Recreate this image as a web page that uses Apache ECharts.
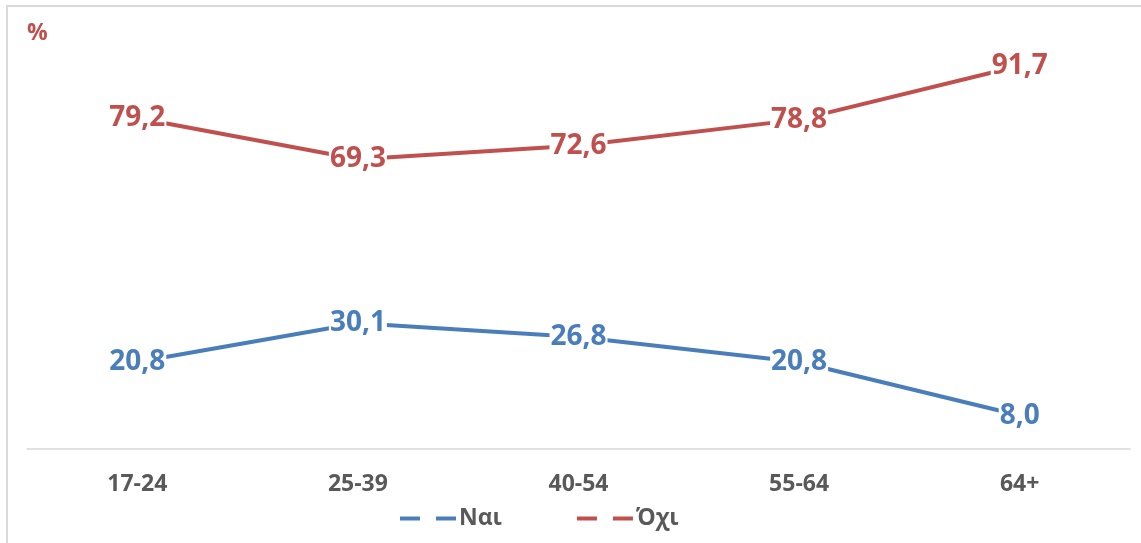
<!DOCTYPE html>
<html>
<head>
<meta charset="utf-8">
<script src="https://cdn.jsdelivr.net/npm/echarts@6/dist/echarts.min.js"></script>
<style>
html,body{margin:0;padding:0;background:#fff;}
#frame{position:absolute;left:6px;top:5px;width:1141px;height:543px;border-left:2px solid #d9d9d9;border-top:2px solid #d9d9d9;}
#chart{position:absolute;left:0;top:0;width:1141px;height:543px;}
</style>
</head>
<body>
<div id="frame"></div>
<div id="chart"></div>
<script>
const categories = ['17-24', '25-39', '40-54', '55-64', '64+'];
const naiValues = [20.8, 30.1, 26.8, 20.8, 8.0];
const oxiValues = [79.2, 69.3, 72.6, 78.8, 91.7];
const seriesNames = ['Ναι', 'Όχι'];
const unitLabel = '%';

const BLUE = '#4a7ebb';
const RED = '#c0504d';
const FONT = '"Open Sans", "Noto Sans", sans-serif';

const chart = echarts.init(document.getElementById('chart'));

function labelCfg(color) {
  return {
    show: true,
    position: 'inside',
    color: color,
    fontFamily: FONT,
    fontWeight: 'bold',
    fontSize: 28,
    backgroundColor: '#fff',
    padding: [0, 1],
    formatter: p => p.value.toFixed(1).replace('.', ',')
  };
}

chart.setOption({
  animation: false,
  title: {
    text: unitLabel,
    left: 22,
    top: 17,
    textStyle: { color: RED, fontFamily: FONT, fontWeight: 'bold', fontSize: 23 }
  },
  grid: { left: 27, right: 11, top: 31, bottom: 94 },
  legend: {
    left: 398,
    top: 507,
    padding: 0,
    itemWidth: 56,
    itemHeight: 14,
    itemGap: 73,
    textStyle: { color: '#595959', fontFamily: FONT, fontWeight: 'bold', fontSize: 23, padding: [0, 0, 0, -2] },
    data: [
      { name: seriesNames[0], lineStyle: { type: [20, 16], width: 4, color: BLUE }, itemStyle: { opacity: 0 } },
      { name: seriesNames[1], lineStyle: { type: [20, 16], width: 4, color: RED }, itemStyle: { opacity: 0 } }
    ]
  },
  xAxis: {
    type: 'category',
    data: categories,
    boundaryGap: true,
    axisLine: { show: true, lineStyle: { color: '#d9d9d9', width: 1.5 } },
    axisTick: { show: false },
    axisLabel: { color: '#595959', fontFamily: FONT, fontWeight: 'bold', fontSize: 23, margin: 24 }
  },
  yAxis: {
    type: 'value',
    min: 0,
    max: 100,
    show: false,
    splitLine: { show: false }
  },
  series: [
    {
      name: seriesNames[0],
      type: 'line',
      data: naiValues,
      symbol: 'circle',
      symbolSize: 1,
      itemStyle: { color: BLUE },
      lineStyle: { color: BLUE, width: 4 },
      label: labelCfg(BLUE),
      z: 3
    },
    {
      name: seriesNames[1],
      type: 'line',
      data: oxiValues,
      symbol: 'circle',
      symbolSize: 1,
      itemStyle: { color: RED },
      lineStyle: { color: RED, width: 4 },
      label: labelCfg(RED),
      z: 3
    }
  ]
});
</script>
</body>
</html>
